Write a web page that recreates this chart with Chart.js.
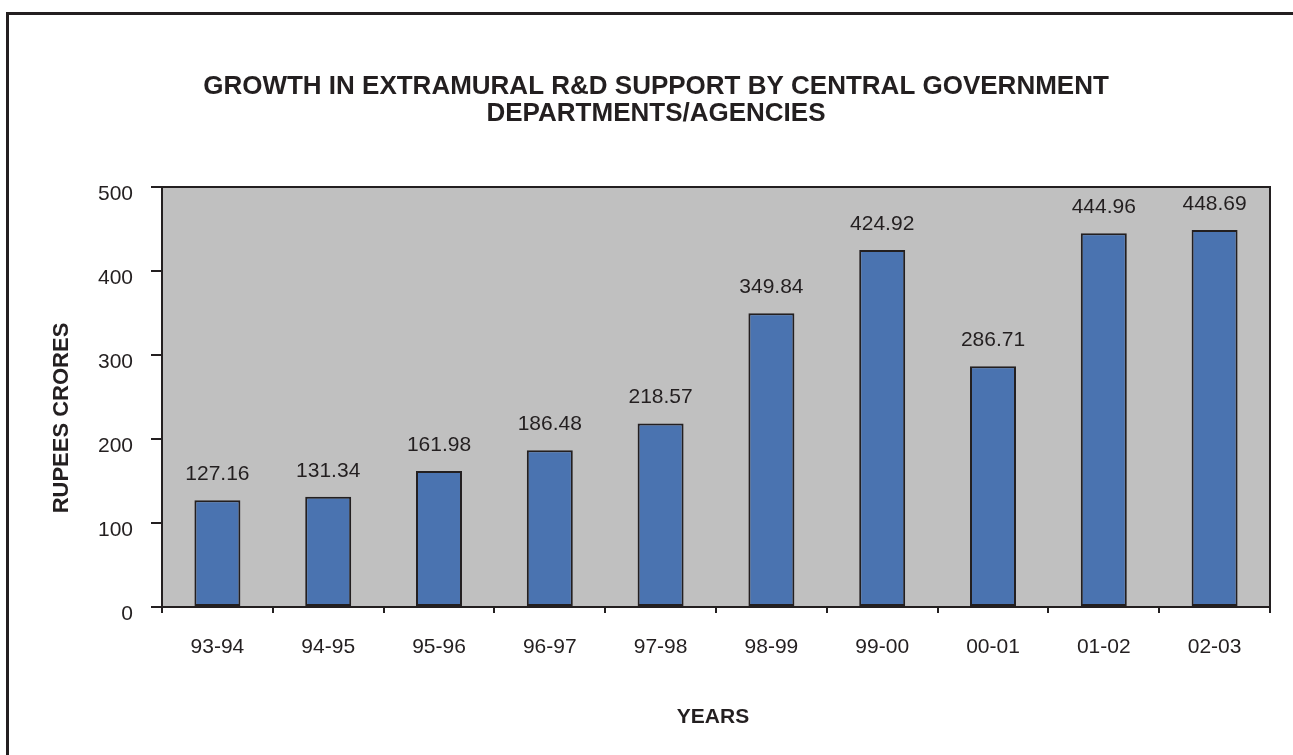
<!DOCTYPE html>
<html>
<head>
<meta charset="utf-8">
<script src="https://cdn.jsdelivr.net/npm/chart.js@4"></script>
<style>
  html, body { margin: 0; padding: 0; background: #ffffff; }
  #wrap { width: 1293px; height: 755px; position: relative; }
</style>
</head>
<body>
<div id="wrap"><canvas id="c" width="1293" height="755"></canvas></div>
<script>
const categories = ["93-94", "94-95", "95-96", "96-97", "97-98", "98-99", "99-00", "00-01", "01-02", "02-03"];
const supportValues = [127.16, 131.34, 161.98, 186.48, 218.57, 349.84, 424.92, 286.71, 444.96, 448.69];
const valueLabels = ["127.16", "131.34", "161.98", "186.48", "218.57", "349.84", "424.92", "286.71", "444.96", "448.69"];
const yTicks = [0, 100, 200, 300, 400, 500];
const titleLines = ["GROWTH IN EXTRAMURAL R&D SUPPORT BY CENTRAL GOVERNMENT", "DEPARTMENTS/AGENCIES"];
const yTitle = "RUPEES CRORES";
const xTitle = "YEARS";

const FONT = "'Liberation Sans', Arial, sans-serif";
const TXT = "#231f20";

const decor = {
  id: "decor",
  beforeDraw(chart) {
    const ctx = chart.ctx, a = chart.chartArea;
    ctx.save();
    // outer frame (cut off at right and bottom)
    ctx.strokeStyle = "#231f20";
    ctx.lineWidth = 3;
    ctx.beginPath();
    ctx.moveTo(7.5, 800);
    ctx.lineTo(7.5, 13.5);
    ctx.lineTo(1400, 13.5);
    ctx.stroke();
    // plot background
    ctx.fillStyle = "#c0c0c0";
    ctx.fillRect(a.left, a.top, a.right - a.left, a.bottom - a.top);
    ctx.restore();
  },
  afterDraw(chart) {
    const ctx = chart.ctx, a = chart.chartArea;
    ctx.save();
    ctx.strokeStyle = "#231f20";
    ctx.lineWidth = 2;
    ctx.strokeRect(a.left, a.top, a.right - a.left, a.bottom - a.top);
    // title
    ctx.fillStyle = TXT;
    ctx.font = "bold 26px " + FONT;
    ctx.textAlign = "center";
    ctx.textBaseline = "middle";
    ctx.fillText(titleLines[0], 656, 87);
    ctx.fillText(titleLines[1], 656, 114);
    // x title
    ctx.font = "bold 21px " + FONT;
    ctx.fillText(xTitle, 713, 717);
    // y title
    ctx.font = "bold 22px " + FONT;
    ctx.translate(62, 418);
    ctx.rotate(-Math.PI / 2);
    ctx.fillText(yTitle, 0, 0);
    ctx.restore();
    // data labels
    const meta = chart.getDatasetMeta(0);
    ctx.save();
    ctx.fillStyle = TXT;
    ctx.font = "21px " + FONT;
    ctx.textAlign = "center";
    ctx.textBaseline = "alphabetic";
    meta.data.forEach((bar, i) => {
      ctx.fillText(valueLabels[i], bar.x, bar.y - 20);
    });
    ctx.restore();
  }
};

new Chart(document.getElementById("c"), {
  type: "bar",
  data: {
    labels: categories,
    datasets: [{
      data: supportValues,
      backgroundColor: "#4a73b0",
      borderColor: "#231f20",
      borderWidth: 2,
      borderSkipped: false,
      categoryPercentage: 1,
      barPercentage: 0.415
    }]
  },
  options: {
    responsive: false,
    animation: false,
    devicePixelRatio: 1,
    layout: { padding: { left: 0, right: 23, top: 187, bottom: 0 } },
    plugins: { legend: { display: false }, tooltip: { enabled: false }, title: { display: false } },
    scales: {
      x: {
        grid: { display: true, drawOnChartArea: false, offset: true, color: "#231f20", lineWidth: 2, tickLength: 6 },
        border: { color: "#231f20", width: 2 },
        ticks: { color: TXT, font: { family: FONT, size: 21 }, padding: 22, maxRotation: 0 },
        afterFit(s) { s.height = 148; }
      },
      y: {
        min: 0, max: 500,
        afterBuildTicks(s) { s.ticks = yTicks.map(v => ({ value: v })); },
        grid: { display: true, drawOnChartArea: false, color: "#231f20", lineWidth: 2, tickLength: 11 },
        border: { color: "#231f20", width: 2 },
        ticks: { color: TXT, font: { family: FONT, size: 21 }, padding: 18, labelOffset: 7 },
        afterFit(s) { s.width = 162; }
      }
    }
  },
  plugins: [decor]
});
</script>
</body>
</html>
